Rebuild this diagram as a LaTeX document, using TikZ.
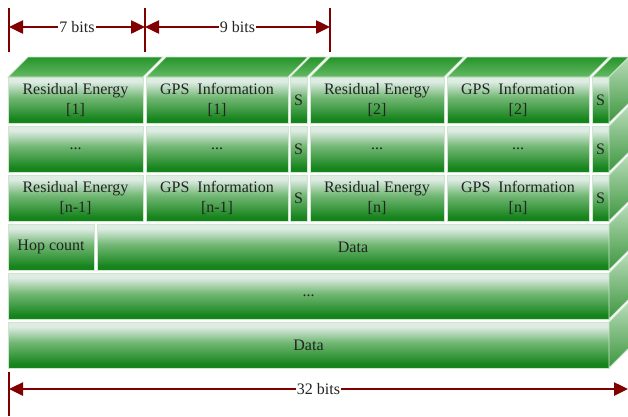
\documentclass[tikz,border=0pt]{standalone}
\usepackage{fontspec}
\setmainfont{Liberation Serif}
\usetikzlibrary{arrows.meta,calc}

\definecolor{gdark}{RGB}{22,132,28}
\definecolor{gmid}{RGB}{115,184,117}
\definecolor{glight}{RGB}{222,236,228}
\definecolor{edgec}{RGB}{205,230,205}
\definecolor{topdark}{RGB}{38,148,42}
\definecolor{toplight}{RGB}{100,185,100}
\definecolor{sidetop}{RGB}{185,220,185}
\definecolor{sidebot}{RGB}{60,150,62}
\definecolor{dimred}{RGB}{128,0,0}
\definecolor{txt}{RGB}{35,35,35}

% front face: pale highlight at the top, deep green at the bottom
\pgfdeclareverticalshading{frontshade}{100bp}{color(0bp)=(gdark); color(29bp)=(gdark); color(53bp)=(gmid); color(70bp)=(glight); color(100bp)=(glight)}

\newcommand{\cellfont}{\fontsize{16}{20.5}\selectfont}

\tikzset{
  cell/.style={draw=edgec, line width=0.8pt, shading=frontshade, anchor=north west,
    inner sep=0pt, outer sep=0pt, minimum height=46pt, text=txt, font=\cellfont, align=center},
  celltext/.style={text=txt, font=\cellfont, align=center, inner sep=0pt},
  topface/.style={draw=edgec, line width=0.8pt, top color=topdark, bottom color=toplight},
  sideface/.style={draw=edgec, line width=0.8pt, top color=sidetop, bottom color=sidebot},
  dimline/.style={draw=dimred, line width=2.5pt,
    {Triangle[length=14pt,width=13pt]}-{Triangle[length=14pt,width=13pt]}},
  dimtick/.style={draw=dimred, line width=2.5pt},
  dimlabel/.style={fill=white, inner sep=1pt, text=txt, font=\cellfont}
}

\begin{document}
\begin{tikzpicture}[x=1pt,y=-1pt]
\useasboundingbox (0,0) rectangle (628,416);

% ---- row 1
\node[cell,minimum width=135pt] (re1)  at (8,77)   {Residual Energy\\{}[1]};
\node[cell,minimum width=142pt] (gps1) at (146,77) {GPS\ \ Information\\{}[1]};
\node[cell,minimum width=17pt]  (s1)   at (290,77) {S};
\node[cell,minimum width=134pt] (re2)  at (310,77) {Residual Energy\\{}[2]};
\node[cell,minimum width=142pt] (gps2) at (447,77) {GPS\ \ Information\\{}[2]};
\node[cell,minimum width=17pt]  (s2)   at (592,77) {S};

% ---- row 2
\node[cell,minimum width=135pt] (da1) at (8,126)   {...};
\node[cell,minimum width=142pt] (da2) at (146,126) {...};
\node[cell,minimum width=17pt]  (da3) at (290,126) {S};
\node[cell,minimum width=134pt] (da4) at (310,126) {...};
\node[cell,minimum width=142pt] (da5) at (447,126) {...};
\node[cell,minimum width=17pt]  (da6) at (592,126) {S};

% ---- row 3
\node[cell,minimum width=135pt] (ren1)  at (8,175)   {Residual Energy\\{}[n-1]};
\node[cell,minimum width=142pt] (gpsn1) at (146,175) {GPS\ \ Information\\{}[n-1]};
\node[cell,minimum width=17pt]  (sn1)   at (290,175) {S};
\node[cell,minimum width=134pt] (ren)   at (310,175) {Residual Energy\\{}[n]};
\node[cell,minimum width=142pt] (gpsn)  at (447,175) {GPS\ \ Information\\{}[n]};
\node[cell,minimum width=17pt]  (sn)    at (592,175) {S};

% ---- rows 4 to 6
\node[cell,minimum width=86pt]  (hop)   at (8,224)  {Hop count};
\node[cell,minimum width=512pt] (dataA) at (97,224) {Data};
\node[cell,minimum width=601pt] (dotsB) at (8,273)  {...};
\node[cell,minimum width=601pt] (dataB) at (8,322)  {Data};

% ---- top faces of the first row
\foreach \c in {re1,gps1,s1,re2,gps2,s2}
  \draw[topface] (\c.north west) -- ++(20,-20) -- ($(\c.north east)+(20,-20)$) -- (\c.north east) -- cycle;

% ---- right side faces
\foreach \c in {s2,da6,sn,dataA,dotsB,dataB}
  \draw[sideface] (\c.north east) -- ++(20,-20) -- ++(0,46) -- (\c.south east) -- cycle;

% ---- bit-width dimensions at the top
\coordinate (t1) at (9,27);
\coordinate (t2) at (145,27);
\coordinate (t3) at (330,27);
\coordinate (t1u) at (9,8);   \coordinate (t1d) at (9,52);
\coordinate (t2u) at (145,8); \coordinate (t2d) at (145,52);
\coordinate (t3u) at (330,8); \coordinate (t3d) at (330,52);
\draw[dimtick] (t1u) -- (t1d);
\draw[dimtick] (t2u) -- (t2d);
\draw[dimtick] (t3u) -- (t3d);
\draw[dimline] (t1) -- node[dimlabel] (lab7) {7 bits} (t2);
\draw[dimline] (t2) -- node[dimlabel] (lab9) {9 bits} (t3);

% ---- word width at the bottom
\coordinate (b1) at (9,389);
\coordinate (b2) at (628,389);
\coordinate (b1u) at (9,372); \coordinate (b1d) at (9,416);
\draw[dimtick] (b1u) -- (b1d);
\draw[dimline] (b1) -- node[dimlabel] (lab32) {32 bits} (b2);
\end{tikzpicture}
\end{document}
